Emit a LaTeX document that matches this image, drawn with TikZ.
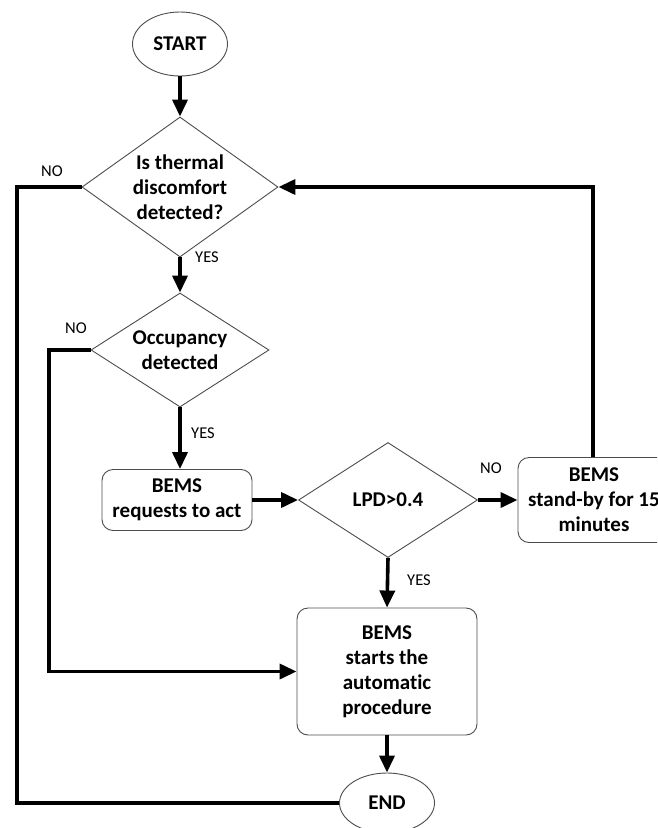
\documentclass[tikz,border=0pt]{standalone}
\usepackage{fontspec}
\setmainfont[Ligatures={NoCommon}]{Carlito}
\usetikzlibrary{shapes.geometric,arrows.meta}
\begin{document}
\begin{tikzpicture}[x=1pt,y=-1pt,
  shapeline/.style={draw=black!70,line width=0.9pt},
  txt/.style={font=\fontsize{21}{25}\selectfont\bfseries,align=center,text=black},
  dia/.style={shapeline,diamond,inner sep=0pt},
  oval/.style={shapeline,ellipse,inner sep=0pt},
  rbox/.style={shapeline,rectangle,rounded corners=11pt,inner sep=0pt,txt},
  conn/.style={line width=3.6pt,-{Triangle[length=17pt,width=15pt]}},
  connplain/.style={line width=3.6pt},
  lbl/.style={font=\fontsize{16.5}{19}\selectfont,text=black}
]
\useasboundingbox (0,0) rectangle (657,828);
\clip (0,0) rectangle (657,828);

\node[oval,minimum width=95pt,minimum height=64pt,txt] (start) at (180,44) {START};
\node[dia,minimum width=196pt,minimum height=140pt,
  label={[txt]center:{Is thermal\\discomfort\\detected?}}] (d1) at (180,187) {};
\node[dia,minimum width=178pt,minimum height=114pt,
  label={[txt]center:{Occupancy\\detected}}] (d2) at (180,350) {};
\node[rbox,minimum width=150pt,minimum height=61pt] (b1) at (177,500) {BEMS\\requests to act};
\node[dia,minimum width=179pt,minimum height=115pt,
  label={[txt]center:{LPD>0.4}}] (d3) at (388,500) {};
\node[rbox,minimum width=152pt,minimum height=85pt] (b2) at (594,500) {BEMS\\stand-by for 15\\minutes};
\node[rbox,minimum width=180pt,minimum height=127pt] (b3) at (387,671.5) {BEMS\\starts the\\automatic\\procedure};
\node[oval,minimum width=95pt,minimum height=60pt,txt] (end) at (387,803) {END};

\coordinate (c1) at (17,187);
\coordinate (c2) at (49,350);
\coordinate (c3) at (593,187);

\draw[conn] (start.south) -- (d1.north);
\draw[conn] (d1.south) -- (d2.north);
\draw[connplain] (d1.west) -- (c1) |- (end.west);
\draw[conn] (d2.south) -- (d2.south |- b1.north);
\draw[conn] (d2.west) -- (c2) |- (b3.west);
\draw[conn] (b1.east) -- (d3.west);
\draw[conn] (d3.east) -- (b2.west);
\draw[conn] (b2.north -| c3) -- (c3) -- (d1.east);
\draw[conn] (d3.south) -- (b3.north);
\draw[conn] (b3.south) -- (end.north);

\node[lbl] (l1) at (52,171) {NO};
\node[lbl] (l2) at (207,257) {YES};
\node[lbl] (l3) at (76,328) {NO};
\node[lbl] (l4) at (203,433) {YES};
\node[lbl] (l5) at (491,468) {NO};
\node[lbl] (l6) at (419,580) {YES};
\end{tikzpicture}
\end{document}
